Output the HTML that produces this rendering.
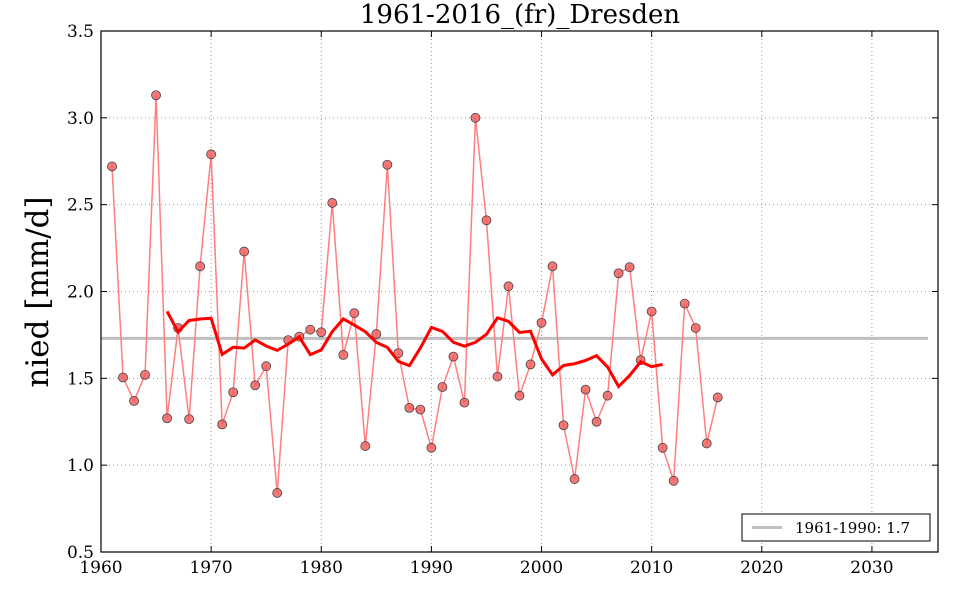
<!DOCTYPE html>
<html><head><meta charset="utf-8"><style>
html,body{margin:0;padding:0;background:#fff;}
svg{display:block;font-family:"DejaVu Serif","Liberation Serif",serif;}
</style></head><body>
<svg id="s" width="960" height="600" xmlns="http://www.w3.org/2000/svg"></svg>
<script>
const s=document.getElementById('s');
const L=101,R=938,T=31,B=552;
const X=y=>L+(y-1960)*(R-L)/76;
const Y=v=>B-(v-0.5)*(B-T)/3;
const d=[2.72,1.505,1.37,1.52,3.13,1.27,1.79,1.265,2.145,2.79,1.235,1.42,2.23,1.46,1.57,0.84,1.72,1.74,1.78,1.765,2.51,1.635,1.875,1.11,1.755,2.73,1.645,1.33,1.32,1.10,1.45,1.625,1.36,3.0,2.41,1.51,2.03,1.40,1.58,1.82,2.145,1.23,0.92,1.435,1.25,1.40,2.105,2.14,1.605,1.885,1.10,0.91,1.93,1.79,1.125,1.39];
let h='';
// grid
for(let y=1960;y<=2030;y+=10){h+=`<line x1="${X(y)}" y1="${T}" x2="${X(y)}" y2="${B}" stroke="#999" stroke-dasharray="1,3"/>`;
h+=`<text x="${X(y)}" y="573" font-size="17" text-anchor="middle">${y}</text>`;
h+=`<line x1="${X(y)}" y1="${B}" x2="${X(y)}" y2="${B-6}" stroke="#000"/><line x1="${X(y)}" y1="${T}" x2="${X(y)}" y2="${T+6}" stroke="#000"/>`;}
for(let v=0.5;v<=3.51;v+=0.5){h+=`<line x1="${L}" y1="${Y(v)}" x2="${R}" y2="${Y(v)}" stroke="#999" stroke-dasharray="1,3"/>`;
h+=`<text x="94" y="${Y(v)+6}" font-size="17" text-anchor="end">${v.toFixed(1)}</text>`;
h+=`<line x1="${L}" y1="${Y(v)}" x2="${L+6}" y2="${Y(v)}" stroke="#000"/><line x1="${R}" y1="${Y(v)}" x2="${R-6}" y2="${Y(v)}" stroke="#000"/>`;}
h+=`<line x1="${L}" y1="${Y(1.73)}" x2="928" y2="${Y(1.73)}" stroke="#bfbfbf" stroke-width="3"/>`;
h+=`<polyline fill="none" stroke="#ff7f7f" stroke-width="1.5" points="${d.map((v,i)=>X(1961+i)+','+Y(v)).join(' ')}"/>`;
d.forEach((v,i)=>{h+=`<circle cx="${X(1961+i)}" cy="${Y(v)}" r="4.5" fill="#f26060" fill-opacity="0.85" stroke="#444" stroke-width="0.8"/>`;});
let m=[];for(let i=5;i<d.length-5;i++){let a=0;for(let k=-5;k<=5;k++)a+=d[i+k];m.push(X(1961+i)+','+Y(a/11));}
h+=`<polyline fill="none" stroke="#ff0000" stroke-width="3" points="${m.join(' ')}"/>`;
h+=`<rect x="${L}" y="${T}" width="${R-L}" height="${B-T}" fill="none" stroke="#000" stroke-width="1.2"/>`;
h+=`<rect x="742" y="514" width="188" height="27" fill="#fff" stroke="#000"/>`;
h+=`<line x1="752" y1="527.5" x2="782" y2="527.5" stroke="#bfbfbf" stroke-width="3"/>`;
h+=`<text x="795" y="533" font-size="15">1961-1990: 1.7</text>`;
h+=`<text x="520" y="23" font-size="26" text-anchor="middle">1961-2016_(fr)_Dresden</text>`;
h+=`<text transform="translate(48,292) rotate(-90)" font-size="31" text-anchor="middle">nied [mm/d]</text>`;
s.innerHTML=h;
</script>
</body></html>
